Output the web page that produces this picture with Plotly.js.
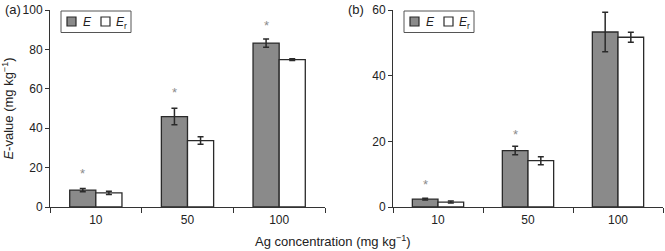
<!DOCTYPE html>
<html><head><meta charset="utf-8">
<script src="https://cdn.plot.ly/plotly-3.0.1.min.js"></script>
<style>body{margin:0;background:#fff}#c{width:665px;height:251px}</style>
</head><body><div id="c"></div>
<script>
const categories = ["10", "50", "100"];
const seriesNames = ["<i>E</i>", "<i>E</i><sub>r</sub>"];
// Panel (a)
const aE = [8.6, 45.9, 83.2];
const aEerr = [0.8, 4.2, 2.1];
const aEr = [7.2, 33.7, 74.8];
const aErerr = [0.8, 1.9, 0.4];
const aStarIdx = [0, 1, 2];
const aStarY = [17, 58, 92];
// Panel (b)
const bE = [2.4, 17.2, 53.3];
const bEerr = [0.3, 1.3, 6.0];
const bEr = [1.5, 14.1, 51.7];
const bErerr = [0.3, 1.2, 1.5];
const bStarIdx = [0, 1];
const bStarY = [7, 22];

const W = 665, H = 251;
const font = "Liberation Sans, Arial, sans-serif";
const ink = "#2a2a2a";
const gray = "#8a8a8a";
const edge = {color: ink, width: 1.3};
function errb(arr){return {type:"data", array:arr, visible:true, color:ink, thickness:1.5, width:3};}

const traces = [
  {type:"bar", x:categories, y:aE, name:seriesNames[0], marker:{color:gray, line:edge}, error_y:errb(aEerr), xaxis:"x", yaxis:"y"},
  {type:"bar", x:categories, y:aEr, name:seriesNames[1], marker:{color:"#ffffff", line:edge}, error_y:errb(aErerr), xaxis:"x", yaxis:"y"},
  {type:"bar", x:categories, y:bE, name:seriesNames[0], marker:{color:gray, line:edge}, error_y:errb(bEerr), xaxis:"x2", yaxis:"y2"},
  {type:"bar", x:categories, y:bEr, name:seriesNames[1], marker:{color:"#ffffff", line:edge}, error_y:errb(bErerr), xaxis:"x2", yaxis:"y2"}
];

const off = 0.1425;
const ann = [];
const shapes = [];
aStarIdx.forEach((i,k)=>ann.push({xref:"x", yref:"y", x:i-off, y:aStarY[k], text:"*", showarrow:false, font:{family:font, size:13, color:"#8c8c8c"}}));
bStarIdx.forEach((i,k)=>ann.push({xref:"x2", yref:"y2", x:i-off, y:bStarY[k], text:"*", showarrow:false, font:{family:font, size:13, color:"#8c8c8c"}}));
ann.push({xref:"paper", yref:"paper", x:0.005, y:1.0, xanchor:"left", yanchor:"top", text:"(a)", showarrow:false, font:{family:font, size:13, color:"#222"}});
ann.push({xref:"paper", yref:"paper", x:0.52, y:1.0, xanchor:"left", yanchor:"top", text:"(b)", showarrow:false, font:{family:font, size:13, color:"#222"}});
ann.push({xref:"paper", yref:"paper", x:0.5, y:0.0, xanchor:"center", yanchor:"bottom", text:"Ag concentration (mg kg<sup>−1</sup>)", showarrow:false, font:{family:font, size:13, color:"#222"}});

// Custom compact legends (pixel layout -> paper coords)
function px(x){return x/W;} function py(y){return 1-y/H;}
function legendAt(x0){
  shapes.push({type:"rect", xref:"paper", yref:"paper", x0:px(x0), x1:px(x0+70), y0:py(11), y1:py(32.5), line:{color:"#555", width:1}, fillcolor:"#fff"});
  shapes.push({type:"rect", xref:"paper", yref:"paper", x0:px(x0+6), x1:px(x0+15), y0:py(17), y1:py(26), line:{color:ink, width:1.2}, fillcolor:gray});
  shapes.push({type:"rect", xref:"paper", yref:"paper", x0:px(x0+40), x1:px(x0+49), y0:py(17), y1:py(26), line:{color:ink, width:1.2}, fillcolor:"#fff"});
  ann.push({xref:"paper", yref:"paper", x:px(x0+20), y:py(21.5), xanchor:"left", yanchor:"middle", text:seriesNames[0], showarrow:false, font:{family:font, size:12, color:"#222"}});
  ann.push({xref:"paper", yref:"paper", x:px(x0+53), y:py(22.5), xanchor:"left", yanchor:"middle", text:seriesNames[1], showarrow:false, font:{family:font, size:12, color:"#222"}});
}
legendAt(61);
legendAt(404);

const yax = {showgrid:false, zeroline:false, showline:true, linecolor:"#333", linewidth:1, ticks:"outside", ticklen:4, tickcolor:"#333", tickfont:{family:font, size:12, color:"#222"}};
const xax = {showgrid:false, zeroline:false, showline:true, linecolor:"#333", linewidth:1, ticks:"outside", ticklen:5, tickcolor:"#333", tickson:"boundaries", ticklabelstandoff:2, tickfont:{family:font, size:12, color:"#222"}, type:"category"};

const layout = {
  width:W, height:H, margin:{l:0, r:0, t:0, b:0},
  paper_bgcolor:"#fff", plot_bgcolor:"#fff",
  barmode:"group", bargap:0.43, bargroupgap:0,
  showlegend:false,
  xaxis:Object.assign({}, xax, {domain:[50/W, 325/W], anchor:"y"}),
  yaxis:Object.assign({}, yax, {domain:[1-207/H, 1-10/H], range:[0,100], dtick:20, anchor:"x",
    title:{text:"<i>E</i>-value (mg kg<sup>−1</sup>)", font:{family:font, size:13, color:"#222"}, standoff:6}}),
  xaxis2:Object.assign({}, xax, {domain:[393/W, 663/W], anchor:"y2"}),
  yaxis2:Object.assign({}, yax, {domain:[1-207/H, 1-10/H], range:[0,60], dtick:20, anchor:"x2"}),
  shapes:shapes,
  annotations:ann
};
Plotly.newPlot("c", traces, layout, {displayModeBar:false, staticPlot:true});
</script></body></html>
